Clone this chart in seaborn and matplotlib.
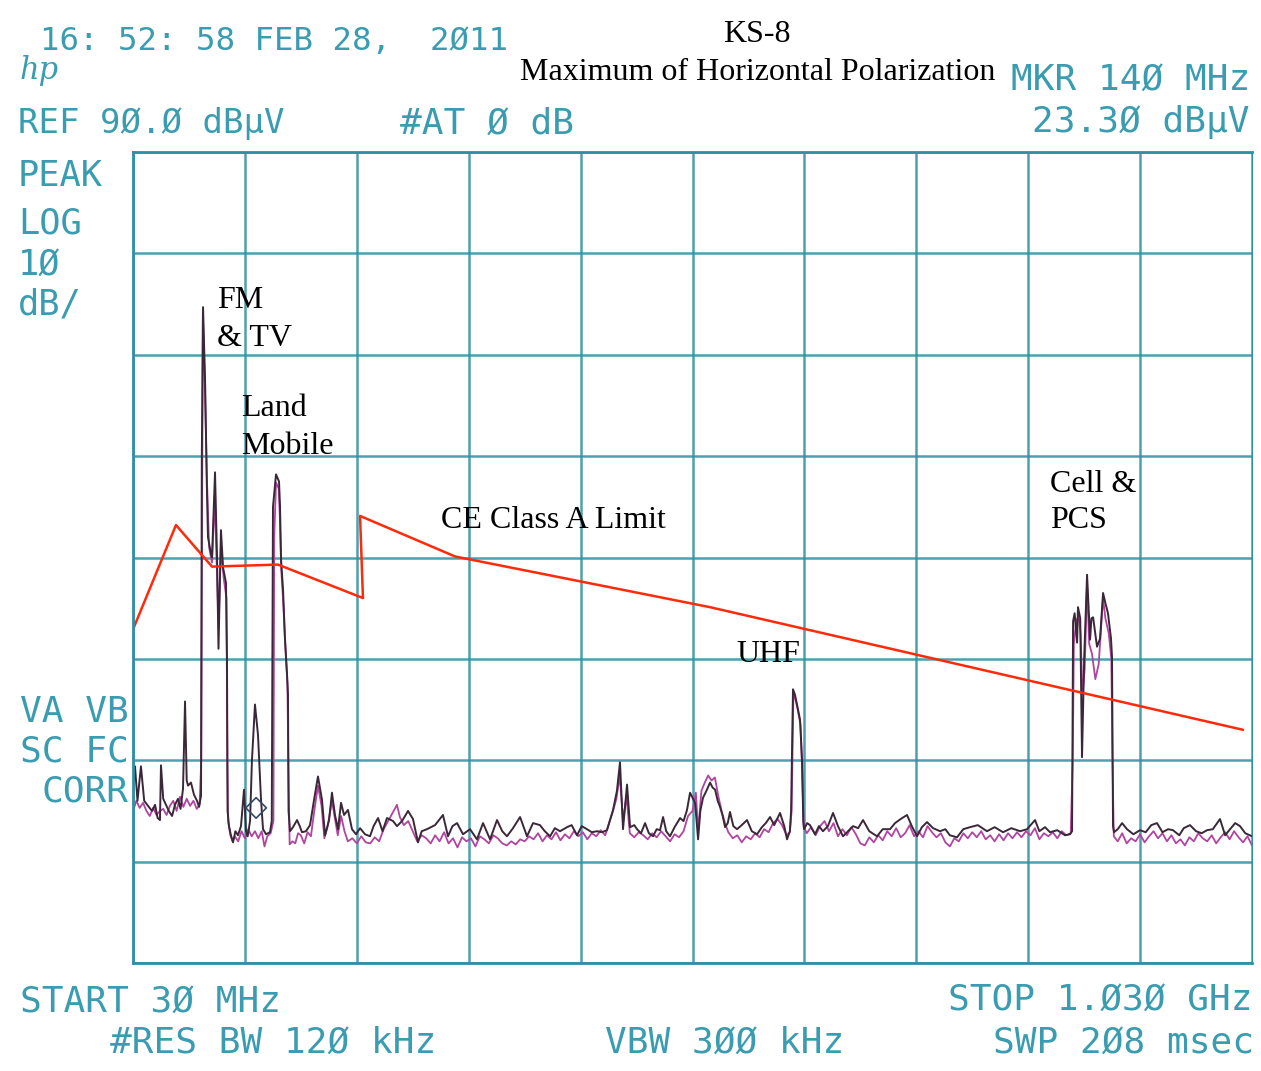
import matplotlib
matplotlib.use('Agg')
import matplotlib.pyplot as plt
import seaborn as sns
import pandas as pd

# --- Configuration ---
OUTPUT_FILE = 'out.png'
W, H = 1261, 1071
TEAL = '#3a9cb0'
GRID = '#2f8fa3'
DARK = '#3a2838'
MAGENTA = '#b2449f'
RED = '#ff2a0a'

# --- Data: analyzer sweep, 30 MHz - 1030 MHz, dBuV ---
DARK_MHZ = [
    30.0, 31.8, 34.0, 37.1, 40.0, 43.4, 47.0, 49.7, 52.0, 54.1, 55.0, 57.0, 59.5, 62.0, 64.9,
    67.5, 70.2, 72.5, 74.7, 76.5, 78.0, 79.2, 81.8, 84.5, 87.2, 89.0, 90.8, 91.5, 92.6, 94.5,
    96.0, 97.0, 99.5, 100.6, 103.3, 105.1, 106.4, 108.6, 110.5, 113.1, 114.0, 114.5, 115.8, 117.5,
    119.4, 121.5, 123.8, 126.5, 129.2, 131.0, 132.5, 134.6, 136.3, 139.0, 141.7, 144.4, 146.2,
    148.9, 152.4, 154.0, 155.1, 157.8, 160.5, 161.4, 162.3, 164.1, 165.8, 167.6, 168.5, 169.0,
    170.3, 173.0, 176.6, 179.0, 181.0, 184.6, 188.2, 191.8, 195.3, 198.9, 201.6, 205.2, 207.8,
    210.5, 213.2, 215.9, 218.6, 222.1, 225.7, 229.3, 232.9, 237.3, 241.8, 245.0, 249.0, 253.0,
    257.0, 262.4, 265.9, 270.4, 275.8, 280.2, 284.7, 288.0, 292.7, 299.9, 307.0, 311.5, 315.5,
    319.6, 324.9, 331.2, 337.4, 342.8, 349.1, 355.3, 360.0, 364.2, 369.6, 375.9, 382.1, 387.5,
    393.7, 398.0, 402.7, 407.0, 411.6, 417.9, 422.0, 426.8, 431.0, 435.7, 440.0, 444.7, 449.0,
    453.6, 459.0, 462.5, 465.2, 467.9, 471.5, 474.2, 478.0, 480.4, 484.0, 487.6, 491.0, 494.7,
    498.0, 501.0, 503.7, 506.5, 509.9, 514.0, 518.9, 522.0, 525.1, 527.8, 530.0, 532.3, 535.0,
    537.0, 539.4, 542.5, 545.7, 548.0, 550.2, 552.5, 554.6, 557.0, 559.1, 561.5, 563.5, 566.5,
    569.8, 574.0, 578.7, 583.0, 587.7, 592.0, 595.5, 599.3, 603.0, 608.2, 612.0, 614.5, 617.0,
    618.1, 619.8, 621.5, 623.4, 626.1, 627.9, 629.0, 629.7, 632.5, 635.0, 639.5, 643.0, 646.6,
    651.0, 655.6, 660.0, 664.5, 669.0, 673.5, 678.0, 682.4, 688.0, 694.9, 700.0, 706.5, 711.0,
    716.0, 721.7, 726.0, 730.7, 735.0, 739.6, 745.0, 751.2, 756.0, 760.0, 766.4, 772.0, 778.0,
    785.0, 793.2, 800.0, 807.5, 815.0, 822.7, 829.0, 836.1, 840.0, 845.0, 849.5, 856.0, 862.9,
    867.4, 869.2, 870.1, 871.5, 873.7, 874.5, 876.5, 878.1, 880.0, 882.6, 885.3, 886.5, 888.0,
    891.5, 894.2, 896.9, 899.0, 901.3, 904.0, 904.9, 905.8, 906.7, 910.0, 913.9, 918.3, 924.0,
    929.9, 935.0, 940.0, 945.1, 950.0, 955.0, 959.4, 965.0, 969.0, 974.6, 980.0, 985.0, 989.8,
    995.0, 1001.4, 1006.0, 1010.4, 1015.0, 1019.3, 1024.0, 1030.0,
]
DARK_DB = [
    27.5, 29.4, 26.0, 29.4, 26.0, 25.5, 25.0, 25.6, 24.3, 24.1, 29.5, 26.2, 25.6, 25.0, 24.5,
    25.6, 26.2, 25.2, 27.2, 35.8, 28.0, 27.5, 27.8, 26.6, 26.0, 25.4, 26.5, 60.0, 74.7, 67.0,
    57.0, 52.0, 50.5, 50.0, 58.4, 50.0, 41.0, 52.7, 49.0, 47.5, 40.0, 25.0, 23.5, 22.6,
    21.9, 23.0, 22.6, 23.5, 27.1, 23.0, 22.5, 24.0, 30.0, 35.5, 32.5, 26.1, 23.2,
    22.7, 22.9, 24.0, 55.0, 58.2, 57.5, 55.0, 49.8, 46.8, 42.0, 38.6, 36.5, 25.0,
    23.0, 23.4, 24.1, 23.5, 22.9, 23.0, 23.6, 26.1, 28.4, 26.1, 22.6, 24.1, 26.8,
    24.6, 23.2, 25.8, 24.6, 25.1, 23.2, 22.7, 23.3, 22.7, 22.5, 23.5, 24.3, 23.0,
    24.3, 24.0, 23.5, 24.0, 25.0, 24.2, 21.9, 23.0, 23.2, 23.6, 24.6, 22.5, 23.5,
    23.8, 22.7, 23.2, 22.2, 23.8, 22.2, 24.1, 23.0, 22.5, 23.3, 24.4, 22.5, 23.8,
    23.6, 23.0, 22.5, 23.3, 23.0, 23.4, 23.6, 22.6, 23.5, 23.2, 22.9, 23.0, 22.9,
    23.1, 25.1, 27.0, 29.8, 23.2, 27.6, 23.4, 23.6, 23.2, 22.8, 23.8, 22.8, 22.5,
    23.2, 23.1, 24.4, 23.0, 22.5, 23.4, 24.3, 24.0, 25.1, 26.8, 26.3, 25.8, 22.2,
    25.0, 26.3, 27.0, 27.8, 27.3, 27.1, 26.0, 25.4, 24.5, 23.4, 23.8, 24.9, 23.5,
    23.2, 23.6, 24.1, 23.0, 22.7, 23.4, 23.8, 24.4, 23.6, 24.8, 23.5, 22.2, 23.0,
    25.0, 37.0, 36.5, 35.5, 34.0, 30.0, 24.0, 23.2, 23.8, 23.6, 22.7, 23.5, 23.0,
    23.5, 24.8, 23.5, 22.5, 23.0, 23.5, 23.3, 24.1, 23.0, 22.5, 23.2, 23.2, 23.8,
    24.2, 24.6, 23.5, 22.5, 23.4, 23.9, 23.3, 23.0, 23.2, 22.6, 22.4, 23.2, 23.4,
    23.6, 23.0, 23.4, 22.9, 23.3, 23.0, 23.2, 24.1, 23.0, 23.4, 22.9, 23.1, 22.6,
    22.7, 23.0, 43.7, 44.5, 41.6, 45.1, 44.0, 30.3, 40.0, 48.3, 41.9, 44.0, 44.1,
    41.2, 42.0, 46.5, 45.5, 44.5, 42.0, 40.2, 23.5, 22.9, 23.2, 23.8, 23.2, 22.7,
    23.1, 22.9, 23.6, 23.8, 22.9, 23.2, 23.1, 22.6, 23.3, 23.6, 23.0, 22.8, 23.1,
    23.2, 24.2, 22.6, 23.2, 23.8, 23.5, 22.8, 22.5,
]

MAG_MHZ = [
    30.0, 33.0, 36.0, 39.0, 42.0, 45.0, 48.0, 51.0, 54.0, 57.0, 60.0, 63.0, 66.0, 69.0, 72.0,
    75.0, 78.0, 81.0, 84.0, 87.0, 89.5, 91.0, 92.4, 94.0, 96.0, 98.0, 100.6, 103.0, 105.0, 106.5,
    108.5, 111.0, 113.5, 114.3, 115.0, 117.0, 119.0, 121.0, 124.0, 127.0, 130.0, 133.0, 136.0,
    139.0, 142.0, 145.0, 147.5, 150.0, 153.0, 155.5, 156.2, 157.8, 160.2, 161.2, 162.5, 164.3,
    166.0, 168.0, 169.0, 170.0, 172.5, 175.0, 177.5, 180.0, 183.0, 186.0, 189.0, 192.0, 195.3,
    198.5, 201.0, 204.0, 207.8, 210.5, 213.0, 216.0, 219.0, 222.0, 226.0, 230.0, 234.0, 238.0,
    242.0, 246.0, 250.0, 254.0, 258.0, 262.0, 265.9, 268.5, 272.0, 276.0, 280.0, 284.0, 288.0,
    292.0, 296.0, 300.0, 304.0, 308.0, 312.0, 316.0, 320.0, 324.0, 328.0, 332.0, 336.0, 340.0,
    344.0, 348.0, 352.0, 356.0, 360.0, 364.0, 368.0, 372.0, 376.0, 380.0, 384.0, 388.0, 392.0,
    396.0, 400.0, 404.0, 408.0, 412.0, 416.0, 420.0, 424.0, 428.0, 432.0, 436.0, 440.0, 444.0,
    448.0, 452.0, 456.0, 459.0, 462.0, 465.0, 468.0, 471.0, 474.0, 478.0, 482.0, 486.0, 490.0,
    494.0, 498.0, 502.0, 506.0, 510.0, 514.0, 518.0, 522.0, 526.0, 530.0, 533.0, 535.0, 538.0,
    541.0, 544.0, 547.0, 550.0, 553.0, 556.0, 559.0, 562.0, 566.0, 570.0, 574.0, 578.0, 582.0,
    586.0, 590.0, 594.0, 598.0, 602.0, 606.0, 610.0, 614.0, 617.0, 618.6, 620.2, 622.0, 624.0,
    626.5, 628.0, 629.3, 632.0, 636.0, 640.0, 644.0, 648.0, 652.0, 656.0, 660.0, 664.0, 668.0,
    672.0, 676.0, 680.0, 684.0, 688.0, 692.0, 696.0, 700.0, 704.0, 708.0, 712.0, 716.0, 720.0,
    724.0, 728.0, 732.0, 736.0, 740.0, 744.0, 748.0, 752.0, 756.0, 760.0, 764.0, 768.0, 772.0,
    776.0, 780.0, 784.0, 788.0, 792.0, 796.0, 800.0, 804.0, 808.0, 812.0, 816.0, 820.0, 824.0,
    828.0, 832.0, 836.0, 840.0, 844.0, 848.0, 852.0, 856.0, 860.0, 864.0, 868.0, 869.8, 870.8,
    873.0, 875.0, 876.8, 878.5, 880.5, 882.6, 884.5, 887.0, 890.0, 893.0, 896.9, 899.0, 902.0,
    904.3, 905.3, 906.5, 910.0, 914.0, 918.0, 922.0, 926.0, 930.0, 934.0, 938.0, 942.0, 946.0,
    950.0, 954.0, 958.0, 962.0, 966.0, 970.0, 974.0, 978.0, 982.0, 986.0, 990.0, 994.0, 998.0,
    1002.0, 1006.0, 1010.0, 1014.0, 1018.0, 1022.0, 1026.0, 1030.0,
]
MAG_DB = [
    25.0, 26.0, 25.3, 25.8, 25.0, 24.5, 25.3, 24.6, 25.0, 25.2, 24.6, 25.5, 26.0, 25.0, 26.4,
    25.4, 26.2, 25.5, 26.0, 25.2, 25.6, 30.0, 74.2, 68.0, 58.0, 51.0, 49.5, 56.0, 48.5, 43.0,
    51.0, 48.0, 46.0, 30.0, 24.0, 22.6, 22.0, 22.5, 22.0, 23.0, 22.3, 23.2, 22.5,
    23.0, 22.3, 23.0, 21.5, 22.5, 22.8, 24.0, 52.0, 57.4, 56.8, 54.0, 48.8, 45.5,
    41.5, 37.5, 28.0, 21.7, 22.0, 21.8, 22.8, 22.6, 21.8, 22.9, 22.5, 25.0, 27.5,
    25.5, 22.3, 23.5, 26.0, 24.2, 22.6, 24.5, 23.0, 22.0, 22.3, 21.8, 22.5, 21.9,
    21.8, 22.4, 22.0, 23.2, 24.0, 24.8, 25.6, 24.4, 23.6, 24.0, 23.0, 22.0, 22.6,
    22.3, 21.8, 22.6, 22.0, 22.9, 21.8, 22.3, 21.4, 22.4, 22.0, 22.3, 21.5, 22.5,
    22.2, 21.8, 22.6, 22.3, 21.8, 21.6, 22.0, 21.7, 22.2, 22.0, 22.5, 22.2, 22.8,
    22.0, 22.6, 22.2, 22.9, 22.1, 22.7, 22.3, 23.0, 22.5, 22.9, 22.2, 22.8, 22.5,
    23.1, 22.6, 24.0, 25.0, 26.2, 28.5, 24.0, 26.5, 22.8, 22.4, 22.9, 22.6, 22.2,
    22.8, 22.4, 23.0, 22.5, 22.0, 22.7, 22.4, 23.0, 24.5, 25.0, 26.8, 23.0, 27.0,
    27.8, 28.5, 28.0, 28.3, 26.5, 25.0, 23.8, 22.9, 22.3, 22.6, 21.9, 22.5, 22.2,
    22.8, 22.4, 23.2, 22.9, 23.8, 24.2, 23.6, 22.6, 22.9, 25.0, 36.6, 36.0, 35.0,
    33.5, 29.0, 23.5, 22.8, 23.4, 22.6, 23.5, 24.0, 23.0, 23.8, 22.5, 23.2, 22.6,
    23.4, 22.7, 21.8, 21.6, 22.4, 21.9, 22.6, 22.1, 23.0, 22.5, 23.3, 22.4, 22.8,
    23.6, 22.5, 23.0, 22.4, 23.5, 22.9, 22.4, 22.8, 21.9, 21.5, 22.3, 22.0, 22.8,
    22.3, 22.9, 22.4, 23.0, 22.2, 22.6, 22.0, 22.7, 22.1, 22.8, 22.3, 22.9, 22.4,
    23.0, 22.6, 23.3, 22.2, 22.8, 22.5, 22.9, 22.3, 23.0, 22.6, 22.8, 30.0, 41.5,
    43.8, 44.2, 42.5, 36.5, 39.0, 47.5, 41.5, 40.5, 38.0, 39.5, 46.0, 44.0, 42.5,
    40.0, 30.0, 22.5, 22.0, 22.8, 21.8, 22.3, 22.0, 22.7, 21.9, 22.5, 23.0, 22.3,
    22.8, 22.0, 22.6, 21.8, 22.2, 21.6, 22.4, 22.0, 22.8, 22.3, 22.0, 22.6, 21.8,
    22.4, 22.9, 22.2, 23.0, 22.4, 21.9, 22.5, 21.6,
]

# CE Class A limit drawn in red over the plot
LIMIT_MHZ = [30.0, 68.4, 100.6, 159.6, 235.5, 232.9, 317.8, 545.6, 1022.0]
LIMIT_DB = [42.9, 53.2, 49.1, 49.3, 46.0, 54.1, 50.1, 45.1, 33.0]

MARKER_MHZ = [140.0]
MARKER_DB = [25.3]

F_START, F_STOP = 30, 1030
REF_LEVEL, DB_PER_DIV = 90, 10

# --- 1. Build tables ---
dark_df = pd.DataFrame({'freq': DARK_MHZ, 'level': DARK_DB})
mag_df = pd.DataFrame({'freq': MAG_MHZ, 'level': MAG_DB})
limit_df = pd.DataFrame({'freq': LIMIT_MHZ, 'level': LIMIT_DB})

# --- 2. Figure / axes placed like the analyzer screen ---
sns.set_style('white')
fig = plt.figure(figsize=(W / 100, H / 100), dpi=100)
ax = fig.add_axes([133 / W, 108 / H, (1252 - 133) / W, (963 - 152) / H])

sns.lineplot(data=mag_df, x='freq', y='level', ax=ax, color=MAGENTA, lw=1.3,
             estimator=None, sort=False)
sns.lineplot(data=dark_df, x='freq', y='level', ax=ax, color=DARK, lw=1.4,
             estimator=None, sort=False)
sns.lineplot(data=limit_df, x='freq', y='level', ax=ax, color=RED, lw=1.8,
             estimator=None, sort=False)
ax.scatter(MARKER_MHZ, MARKER_DB, marker='D', s=110, facecolors='none',
           edgecolors='#334a66', linewidths=1.2, zorder=5)

ax.set_xlim(F_START, F_STOP)
ax.set_ylim(REF_LEVEL - 8 * DB_PER_DIV, REF_LEVEL)
ax.set_xticks(range(F_START, F_STOP + 1, 100))
ax.set_yticks(range(REF_LEVEL - 8 * DB_PER_DIV, REF_LEVEL + 1, DB_PER_DIV))
ax.tick_params(length=0, labelbottom=False, labelleft=False)
ax.set_xlabel('')
ax.set_ylabel('')
ax.grid(True, color=GRID, lw=1.8, alpha=0.85)
ax.set_axisbelow(True)
for side, sp in ax.spines.items():
    sp.set_color(GRID)
    sp.set_linewidth(2.0 if side != 'right' else 0.8)


# --- 3. Screen annotations (teal analyzer text) ---
def screen_text(x, y, s, ha='left', size=26, **kw):
    fig.text(x / W, 1 - y / H, s, ha=ha, va='center', color=TEAL, fontsize=size,
             family='DejaVu Sans Mono', **kw)


screen_text(40, 42, '16: 52: 58 FEB 28,  2Ø11', size=23.3)
fig.text(20 / W, 1 - 70 / H, 'hp', ha='left', va='center', color=TEAL,
         fontsize=22, style='italic', family='DejaVu Serif')
screen_text(18, 124, 'REF 9Ø.Ø dBµV', size=24.5)
screen_text(400, 124, '#AT Ø dB')
screen_text(1250, 80, 'MKR 14Ø MHz', ha='right')
screen_text(1250, 122, '23.3Ø dBµV', ha='right')
for txt, yy in [('PEAK', 176), ('LOG', 224), ('1Ø', 265), ('dB/', 305)]:
    screen_text(18, yy, txt, size=25.5)
screen_text(20, 712, 'VA VB')
screen_text(20, 752, 'SC FC')
screen_text(42, 792, 'CORR')
screen_text(20, 1002, 'START 3Ø MHz')
screen_text(1252, 1000, 'STOP 1.Ø3Ø GHz', ha='right')
screen_text(110, 1043, '#RES BW 12Ø kHz')
screen_text(605, 1043, 'VBW 3ØØ kHz')
screen_text(993, 1043, 'SWP 2Ø8 msec')


# --- 4. Black labels added on top of the screenshot ---
def label(x, y, s, ha='left', size=23):
    fig.text(x / W, 1 - y / H, s, ha=ha, va='center', color='black', fontsize=size,
             family='Liberation Serif')


label(757, 35, 'KS-8', ha='center')
label(758, 73, 'Maximum of Horizontal Polarization', ha='center')
label(217, 301, 'FM')
label(217, 338, '& TV')
label(241, 408, 'Land')
label(241, 446, 'Mobile')
label(441, 520, 'CE Class A Limit')
label(736, 654, 'UHF')
label(1050, 485, 'Cell &')
label(1050, 521, 'PCS')

fig.savefig(OUTPUT_FILE, dpi=100)
print(f"Saved '{OUTPUT_FILE}'")
